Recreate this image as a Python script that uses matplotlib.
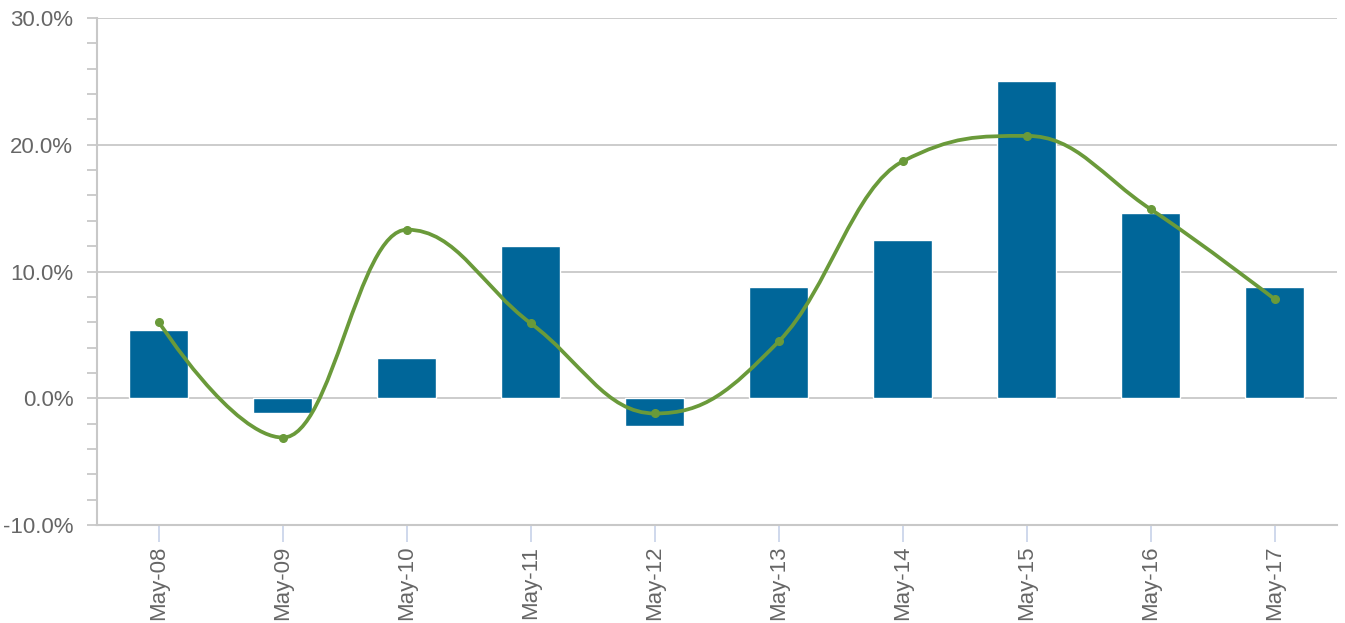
import numpy as np
import matplotlib
matplotlib.use("Agg")
import matplotlib.pyplot as plt
from matplotlib.path import Path
from matplotlib.patches import PathPatch
from matplotlib.ticker import FuncFormatter, MultipleLocator

plt.rcParams["font.family"] = ["Liberation Sans", "DejaVu Sans"]

# ── data ──────────────────────────────────────────────────────────────────────
dates = ["May-08", "May-09", "May-10", "May-11", "May-12",
         "May-13", "May-14", "May-15", "May-16", "May-17"]
bar_vals = [5.4, -1.2, 3.2, 12.0, -2.2, 8.8, 12.5, 25.0, 14.6, 8.8]
line_vals = [6.0, -3.1, 13.3, 5.9, -1.2, 4.5, 18.7, 20.7, 14.9, 7.8]

BAR_COLOR = "#006699"
LINE_COLOR = "#6a9a3a"
GRID = "#c8c8c8"
TEXT = "#666666"


def spline_path(xs, ys, smoothing=1.5):
    """Highcharts-style spline: cubic bezier with clamped control points."""
    denom = smoothing + 1
    verts = [(xs[0], ys[0])]
    codes = [Path.MOVETO]
    right = [None] * len(xs)
    for i in range(1, len(xs)):
        px, py = xs[i], ys[i]
        lcx, lcy = px, py
        if i < len(xs) - 1:
            lx, ly = xs[i - 1], ys[i - 1]
            nx, ny = xs[i + 1], ys[i + 1]
            lcx = (smoothing * px + lx) / denom
            lcy = (smoothing * py + ly) / denom
            rcx = (smoothing * px + nx) / denom
            rcy = (smoothing * py + ny) / denom
            corr = (rcy - lcy) * (rcx - px) / (rcx - lcx) + py - rcy
            lcy += corr
            rcy += corr
            if lcy > ly and lcy > py:
                lcy = max(ly, py); rcy = 2 * py - lcy
            elif lcy < ly and lcy < py:
                lcy = min(ly, py); rcy = 2 * py - lcy
            if rcy > ny and rcy > py:
                rcy = max(ny, py); lcy = 2 * py - rcy
            elif rcy < ny and rcy < py:
                rcy = min(ny, py); lcy = 2 * py - rcy
            right[i] = (rcx, rcy)
        prev = right[i - 1] if right[i - 1] is not None else (xs[i - 1], ys[i - 1])
        verts += [prev, (lcx, lcy), (px, py)]
        codes += [Path.CURVE4] * 3
    return Path(verts, codes)


fig = plt.figure(figsize=(13.45, 6.23), dpi=100)
ax = fig.add_axes([0.0721, 0.1573, 0.9219, 0.8138])

x = np.arange(len(dates))
ax.bar(x, bar_vals, 0.476, color=BAR_COLOR, edgecolor="white",
       linewidth=1, zorder=3)

ax.add_patch(PathPatch(spline_path(x, line_vals), fill=False,
                       edgecolor=LINE_COLOR, linewidth=2.7, zorder=4,
                       capstyle="round", joinstyle="round"))
ax.plot(x, line_vals, "o", color=LINE_COLOR, markersize=5.5, zorder=5)

ax.set_xlim(-0.5, len(dates) - 0.5)
ax.set_ylim(-10, 30)

ax.yaxis.set_major_locator(MultipleLocator(10))
ax.yaxis.set_minor_locator(MultipleLocator(2))
ax.yaxis.set_major_formatter(FuncFormatter(lambda v, p: f"{v:.1f}%"))
ax.grid(axis="y", which="major", color=GRID, linewidth=1.3, zorder=1)

ax.set_xticks(x)
ax.set_xticklabels(dates, rotation=90)

ax.tick_params(axis="y", which="both", length=7, width=1.3, color=GRID,
               labelsize=16, labelcolor=TEXT, pad=10)
ax.tick_params(axis="x", length=12, width=1.3, color="#ccd6eb",
               labelsize=16, labelcolor=TEXT, pad=3)

for s in ["top", "right"]:
    ax.spines[s].set_visible(False)
for s in ["left", "bottom"]:
    ax.spines[s].set_color(GRID)
    ax.spines[s].set_linewidth(1.5)

fig.savefig("out.png", dpi=100)
